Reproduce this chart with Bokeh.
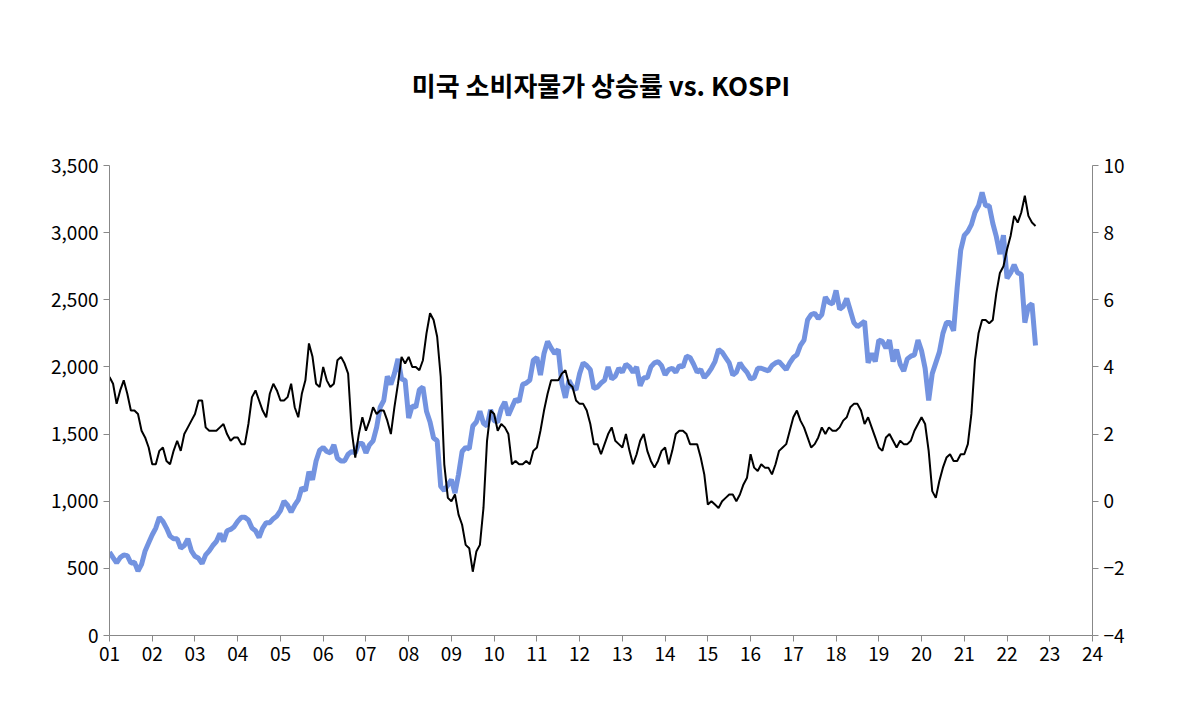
import numpy as np
from bokeh.plotting import figure
from bokeh.models import Range1d, LinearAxis, FixedTicker, Legend, LegendItem, Label, NumeralTickFormatter, CustomJSTickFormatter
from bokeh.embed import file_html
from bokeh.resources import INLINE

kospi = [620,580,540,580,600,595,540,545,480,530,630,690,
 750,800,880,850,800,740,720,720,650,670,720,630,
 590,575,535,600,630,670,700,760,700,780,790,810,
 850,880,880,860,800,780,730,800,840,840,870,890,
 930,1000,970,920,970,1010,1100,1080,1220,1160,1300,1380,
 1400,1370,1360,1420,1320,1300,1300,1350,1370,1360,1430,1430,
 1360,1420,1450,1550,1700,1750,1930,1870,1950,2060,1910,1900,
 1620,1710,1700,1830,1850,1670,1590,1470,1450,1110,1080,1120,
 1160,1060,1200,1370,1400,1390,1560,1590,1670,1580,1560,1680,
 1600,1590,1690,1740,1640,1700,1760,1740,1870,1880,1900,2050,
 2070,1940,2100,2190,2140,2100,2130,1880,1770,1900,1850,1830,
 1950,2030,2010,1980,1840,1850,1880,1900,2000,1910,1930,1990,
 1960,2020,2000,1960,2000,1860,1920,1920,2000,2030,2040,2010,
 1940,1980,1990,1960,2010,2000,2080,2070,2020,1960,1980,1920,
 1950,1990,2040,2130,2110,2070,2030,1940,1960,2030,1990,1960,
 1910,1920,1990,1990,1980,1970,2010,2030,2040,2010,1980,2030,
 2070,2090,2160,2200,2350,2390,2400,2360,2390,2520,2480,2470,
 2570,2430,2450,2510,2420,2330,2300,2320,2340,2030,2100,2040,
 2200,2190,2140,2200,2040,2130,2020,1970,2060,2080,2090,2200,
 2120,1990,1750,1950,2030,2110,2250,2330,2330,2270,2590,2870,
 2980,3010,3060,3150,3200,3300,3200,3200,3070,2970,2840,2980,
 2660,2700,2760,2700,2690,2330,2450,2470,2160]
cpi = [3.7,3.5,2.9,3.3,3.6,3.2,2.7,2.7,2.6,2.1,1.9,1.6,
 1.1,1.1,1.5,1.6,1.2,1.1,1.5,1.8,1.5,2.0,2.2,2.4,
 2.6,3.0,3.0,2.2,2.1,2.1,2.1,2.2,2.3,2.0,1.8,1.9,
 1.9,1.7,1.7,2.3,3.1,3.3,3.0,2.7,2.5,3.2,3.5,3.3,
 3.0,3.0,3.1,3.5,2.8,2.5,3.2,3.6,4.7,4.3,3.5,3.4,
 4.0,3.6,3.4,3.5,4.2,4.3,4.1,3.8,2.1,1.3,2.0,2.5,
 2.1,2.4,2.8,2.6,2.7,2.7,2.4,2.0,2.8,3.5,4.3,4.1,
 4.3,4.0,4.0,3.9,4.2,5.0,5.6,5.4,4.9,3.7,1.1,0.1,
 0.0,0.2,-0.4,-0.7,-1.3,-1.4,-2.1,-1.5,-1.3,-0.2,1.8,2.7,
 2.6,2.1,2.3,2.2,2.0,1.1,1.2,1.1,1.1,1.2,1.1,1.5,
 1.6,2.1,2.7,3.2,3.6,3.6,3.6,3.8,3.9,3.5,3.4,3.0,
 2.9,2.9,2.7,2.3,1.7,1.7,1.4,1.7,2.0,2.2,1.8,1.7,
 1.6,2.0,1.5,1.1,1.4,1.8,2.0,1.5,1.2,1.0,1.2,1.5,
 1.6,1.1,1.5,2.0,2.1,2.1,2.0,1.7,1.7,1.7,1.3,0.8,
 -0.1,0.0,-0.1,-0.2,0.0,0.1,0.2,0.2,0.0,0.2,0.5,0.7,
 1.4,1.0,0.9,1.1,1.0,1.0,0.8,1.1,1.5,1.6,1.7,2.1,
 2.5,2.7,2.4,2.2,1.9,1.6,1.7,1.9,2.2,2.0,2.2,2.1,
 2.1,2.2,2.4,2.5,2.8,2.9,2.9,2.7,2.3,2.5,2.2,1.9,
 1.6,1.5,1.9,2.0,1.8,1.6,1.8,1.7,1.7,1.8,2.1,2.3,
 2.5,2.3,1.5,0.3,0.1,0.6,1.0,1.3,1.4,1.2,1.2,1.4,
 1.4,1.7,2.6,4.2,5.0,5.4,5.4,5.3,5.4,6.2,6.8,7.0,
 7.5,7.9,8.5,8.3,8.6,9.1,8.5,8.3,8.2]
year_labels = ["01","02","03","04","05","06","07","08","09","10","11","12",
 "13","14","15","16","17","18","19","20","21","22","23","24"]
x = [2001 + i/12 for i in range(len(kospi))]

FONT = "Noto Sans CJK KR"
p = figure(width=1165, height=705, output_backend="svg", toolbar_location=None,
           x_range=Range1d(2001, 2024), y_range=Range1d(0, 3500),
           min_border_left=109, min_border_right=73, min_border_bottom=70, min_border_top=145,
           title="미국 소비자물가 상승률 vs. KOSPI")
p.title.align = "center"
p.title.text_font = FONT
p.title.text_font_size = "26px"
p.title.text_font_style = "bold"
p.title.text_color = "black"
p.title.standoff = 126
p.outline_line_color = None
p.grid.grid_line_color = None
p.extra_y_ranges = {"r": Range1d(-4, 10)}

l1 = p.line(x, kospi, line_color="#7393E0", line_width=5)
l2 = p.line(x, cpi, y_range_name="r", line_color="black", line_width=2)

ra = LinearAxis(y_range_name="r", ticker=FixedTicker(ticks=list(range(-4, 11, 2))))
p.add_layout(ra, "right")
p.yaxis[0].ticker = FixedTicker(ticks=list(range(0, 3501, 500)))
p.yaxis[0].formatter = NumeralTickFormatter(format="0,0")
p.xaxis.ticker = FixedTicker(ticks=list(range(2001, 2025)))
p.xaxis.formatter = CustomJSTickFormatter(args=dict(labs=year_labels), code="return labs[Math.round(tick)-2001];")
for ax in [p.xaxis[0], p.yaxis[0], ra]:
    ax.minor_tick_line_color = None
    ax.major_label_text_font = FONT
    ax.major_label_text_font_size = "19px"
    ax.major_label_text_color = "black"
    ax.axis_line_color = "#888888"
    ax.major_tick_line_color = "#888888"
    ax.major_tick_out = 6
    ax.major_tick_in = 0

leg = Legend(items=[LegendItem(label="KOSPI(좌축)", renderers=[l1]),
                    LegendItem(label="미국 소비자물가 상승률(우축)", renderers=[l2])],
             orientation="horizontal", location=(92, 472), background_fill_alpha=0,
             border_line_color=None, label_text_font=FONT, label_text_font_size="19px",
             glyph_width=40, spacing=125, label_standoff=4)
p.add_layout(leg)
p.add_layout(Label(x=1998.85, y=3770, text="(1980=100)", text_font=FONT, text_font_size="17px"))
p.add_layout(Label(x=2024.35, y=3770, text="(%)", text_font=FONT, text_font_size="17px"))

open("out.html", "w").write(file_html(p, INLINE))
